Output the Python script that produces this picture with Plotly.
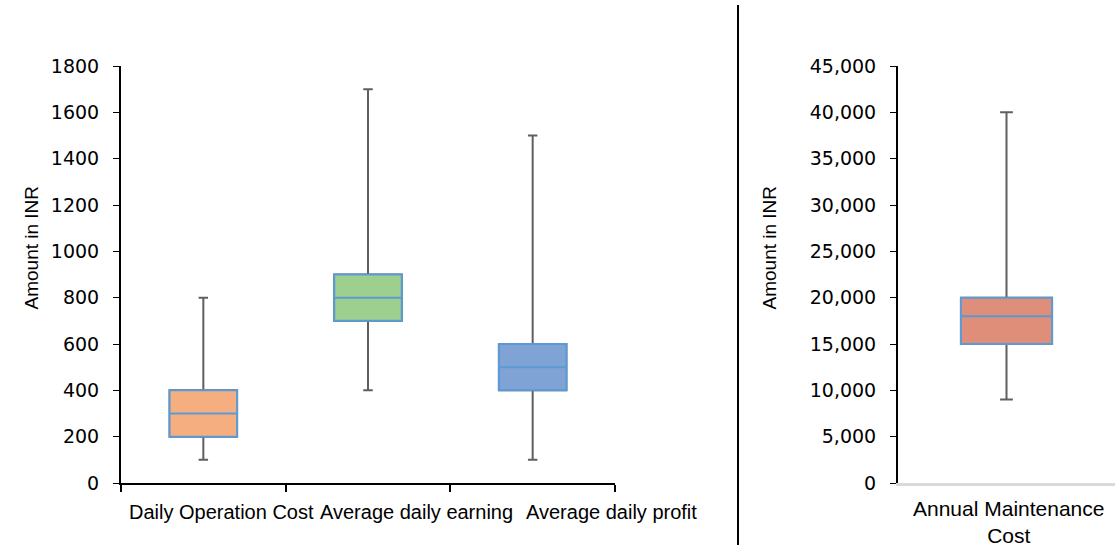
import plotly.graph_objects as go

W, H = 1115, 548

# ---- data ----
left_categories = ["Daily Operation Cost", "Average daily earning", "Average daily profit"]
left_min = [100, 400, 100]
left_q1 = [200, 700, 400]
left_median = [300, 800, 500]
left_q3 = [400, 900, 600]
left_max = [800, 1700, 1500]
left_fill = ["#F4AE7F", "#9DD08E", "#7FA3D5"]

right_categories = ["Annual Maintenance<br>Cost"]
right_min = [9000]
right_q1 = [15000]
right_median = [18000]
right_q3 = [20000]
right_max = [40000]
right_fill = ["#DF8E79"]

left_yticks = list(range(0, 1801, 200))
right_yticks = list(range(0, 45001, 5000))

# label pixel offsets (style only)
left_label_shift = [18, 48, 79]

WHISKER = "#5f5f5f"
OUTLINE = "#5B9BD5"
FONT_TICK = "DejaVu Sans"
FONT_CAT = "Liberation Sans Narrow, Liberation Sans, sans-serif"

fig = go.Figure()


def add_boxes(cats, mins, q1s, meds, q3s, maxs, fills, xa, ya, width):
    for i, c in enumerate(cats):
        # whiskers (gray)
        fig.add_trace(go.Box(
            x=[c], q1=[q1s[i]], median=[meds[i]], q3=[q3s[i]],
            lowerfence=[mins[i]], upperfence=[maxs[i]],
            xaxis=xa, yaxis=ya, width=width, whiskerwidth=0.14,
            line=dict(color=WHISKER, width=2), fillcolor="rgba(0,0,0,0)",
            showlegend=False, hoverinfo="skip", boxpoints=False))
        # box body (blue outline)
        fig.add_trace(go.Box(
            x=[c], q1=[q1s[i]], median=[meds[i]], q3=[q3s[i]],
            lowerfence=[q1s[i]], upperfence=[q3s[i]],
            xaxis=xa, yaxis=ya, width=width, whiskerwidth=0,
            line=dict(color=OUTLINE, width=2), fillcolor=fills[i],
            showlegend=False, boxpoints=False))


add_boxes(left_categories, left_min, left_q1, left_median, left_q3, left_max,
          left_fill, "x", "y", 0.41)
add_boxes(right_categories, right_min, right_q1, right_median, right_q3, right_max,
          right_fill, "x2", "y2", 0.42)

ytop = 1 - 66 / H
ybot = 1 - 483 / H

fig.update_layout(
    width=W, height=H,
    margin=dict(l=0, r=0, t=0, b=0, autoexpand=False),
    paper_bgcolor="white", plot_bgcolor="white",
    boxmode="overlay",
    showlegend=False,
    font=dict(family=FONT_TICK, color="#000000", size=18),
    xaxis=dict(domain=[121 / W, 615 / W], anchor="y", type="category",
               categoryorder="array", categoryarray=left_categories,
               range=[-0.5, len(left_categories) - 0.5],
               automargin=False, showticklabels=False,
               showline=True, linecolor="#000000", linewidth=2,
               ticks="outside", tickson="boundaries", ticklen=7, tickcolor="#000000",
               tickwidth=1.5, showgrid=False, zeroline=False),
    yaxis=dict(domain=[ybot, ytop], anchor="x", range=[0, 1800], automargin=False,
               tickvals=left_yticks, showline=True, linecolor="#000000", linewidth=2,
               ticks="outside", ticklen=6, tickcolor="#000000", showgrid=False,
               zeroline=False, ticklabelstandoff=10,
               tickfont=dict(family=FONT_TICK, size=19)),
    xaxis2=dict(domain=[898 / W, 1.0], anchor="y2", type="category", automargin=False,
                range=[-0.5, len(right_categories) - 0.5],
                showline=True, linecolor="#D9D9D9", linewidth=3,
                ticks="", showgrid=False, zeroline=False, showticklabels=False),
    yaxis2=dict(domain=[ybot, ytop], anchor="x2", range=[0, 45000], automargin=False,
                tickvals=right_yticks, tickformat=",", showline=True,
                linecolor="#000000", linewidth=2, ticks="outside", ticklen=6,
                tickcolor="#000000", showgrid=False, zeroline=False,
                ticklabelstandoff=10, tickfont=dict(family=FONT_TICK, size=19)),
)

# category labels
for c, dx in zip(left_categories, left_label_shift):
    fig.add_annotation(x=c, y=1 - 511 / H, xref="x", yref="paper", text=c,
                       xshift=dx, yshift=-14, showarrow=False,
                       font=dict(family=FONT_CAT, size=20, color="#000000"))
for c in right_categories:
    fig.add_annotation(x=c, y=1 - 524 / H, xref="x2", yref="paper", text=c,
                       showarrow=False, xshift=2, yshift=-25,
                       font=dict(family=FONT_CAT, size=21, color="#000000"))

# axis titles
for xpx in (18, 781):
    fig.add_annotation(x=xpx / W, y=1 - 248 / H, xref="paper", yref="paper",
                       text="Amount in INR", textangle=-90, showarrow=False,
                       font=dict(family=FONT_CAT, size=19, color="#000000"))

# vertical divider
fig.add_shape(type="line", xref="paper", yref="paper",
              x0=738 / W, x1=738 / W, y0=1 - 545 / H, y1=1 - 5 / H,
              line=dict(color="#000000", width=2))

fig.write_html("out.html", config={"displayModeBar": False},
               post_script="document.body.style.margin='0';document.body.style.overflow='hidden';")
